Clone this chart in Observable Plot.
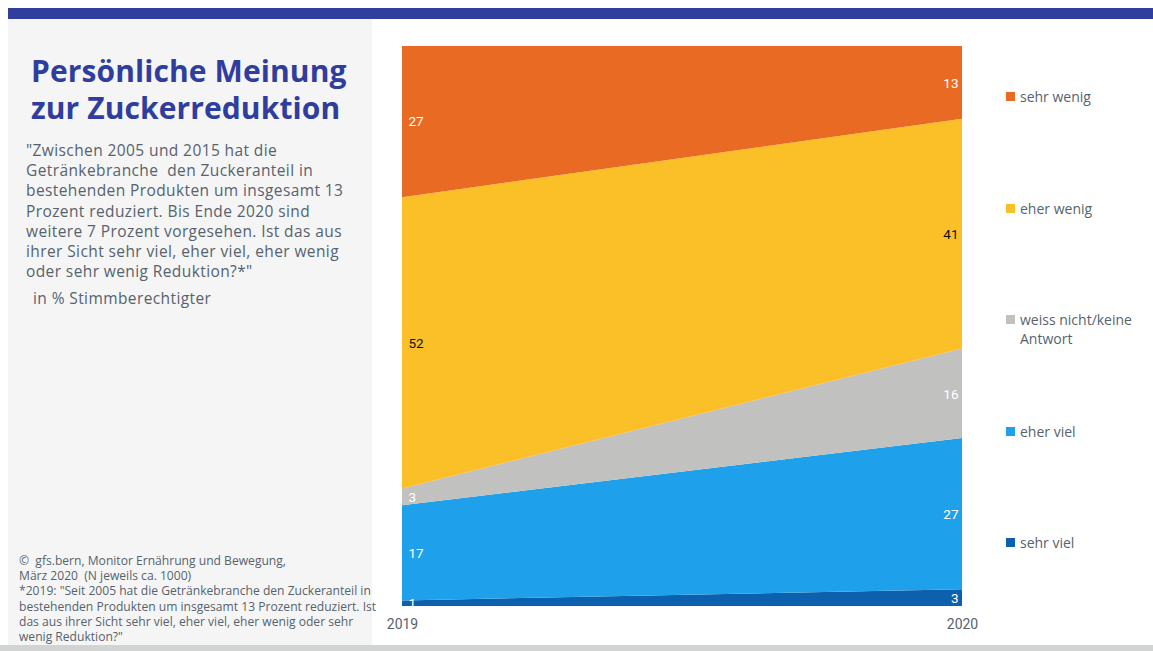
<!DOCTYPE html>
<html>
<head>
<meta charset="utf-8">
<script src="https://cdn.jsdelivr.net/npm/d3@7"></script>
<script src="https://cdn.jsdelivr.net/npm/@observablehq/plot@0.6"></script>
<style>
  html, body { margin: 0; padding: 0; background: #fff; }
  #root { position: relative; width: 1153px; height: 651px; overflow: hidden; font-family: "Open Sans", sans-serif; color: #56636e; }
  .abs { position: absolute; }
  #topbar { left: 8px; top: 8px; width: 1145px; height: 11px; background: #313e9b; }
  #panel { left: 8px; top: 19px; width: 364px; height: 626px; background: #f5f5f5; }
  #bottombar { left: 0; top: 645px; width: 1153px; height: 6px; background: #d2d3d3; }
  #title { left: 31px; top: 52px; font-size: 30px; line-height: 37px; font-weight: 700; color: #2f3e9e; letter-spacing: 0.1px; white-space: nowrap; }
  #question { left: 26px; top: 140px; font-size: 15.5px; line-height: 20.2px; white-space: nowrap; letter-spacing: 0.4px; }
  #unit { left: 33px; top: 288px; font-size: 15.5px; line-height: 20px; white-space: nowrap; letter-spacing: 0.4px; }
  #source { left: 19px; top: 553px; font-size: 12.1px; line-height: 15.2px; white-space: nowrap; }
  #chart { left: 380px; top: 19px; }
  .leg { position: absolute; left: 1006px; font-size: 14px; line-height: 19px; white-space: nowrap; }
  .leg .sw { position: absolute; left: 0; top: 5px; width: 9px; height: 9px; }
  .leg .lab { position: absolute; left: 14px; top: 0; }
</style>
</head>
<body>
<div id="root">
  <div id="topbar" class="abs"></div>
  <div id="panel" class="abs"></div>
  <div id="bottombar" class="abs"></div>
  <div id="title" class="abs">Persönliche Meinung<br>zur Zuckerreduktion</div>
  <div id="question" class="abs">"Zwischen 2005 und 2015 hat die<br>Getränkebranche&nbsp; den Zuckeranteil in<br>bestehenden Produkten um insgesamt 13<br>Prozent reduziert. Bis Ende 2020 sind<br>weitere 7 Prozent vorgesehen. Ist das aus<br>ihrer Sicht sehr viel, eher viel, eher wenig<br>oder sehr wenig Reduktion?*"</div>
  <div id="unit" class="abs">in % Stimmberechtigter</div>
  <div id="source" class="abs">©&nbsp; gfs.bern, Monitor Ernährung und Bewegung,<br>März 2020&nbsp; (N jeweils ca. 1000)<br>*2019: "Seit 2005 hat die Getränkebranche den Zuckeranteil in<br>bestehenden Produkten um insgesamt 13 Prozent reduziert. Ist<br>das aus ihrer Sicht sehr viel, eher viel, eher wenig oder sehr<br>wenig Reduktion?"</div>
  <div id="chart" class="abs"></div>
  <div id="legend"></div>
</div>
<script>
// Data
const years = [2019, 2020];
const categories = ["sehr viel", "eher viel", "weiss nicht/keine Antwort", "eher wenig", "sehr wenig"];
const legendLabels = ["sehr viel", "eher viel", "weiss nicht/keine<br>Antwort", "eher wenig", "sehr wenig"];
const values2019 = [1, 17, 3, 52, 27];
const values2020 = [3, 27, 16, 41, 13];
const colors = ["#0d60ae", "#1ea1ea", "#c1c1bf", "#fbbf28", "#e96a23"];
const labelColors = ["#ffffff", "#ffffff", "#ffffff", "#111111", "#ffffff"];

const rows = [];
categories.forEach((c, i) => {
  rows.push({year: years[0], cat: c, value: values2019[i], lc: labelColors[i]});
  rows.push({year: years[1], cat: c, value: values2020[i], lc: labelColors[i]});
});

const W = 773, H = 626;
const chart = Plot.plot({
  width: W,
  height: H,
  marginLeft: 22,
  marginRight: 191,
  marginTop: 27,
  marginBottom: 39,
  style: {fontFamily: "Roboto, sans-serif", fontSize: "14px", color: "#56636e", background: "transparent", overflow: "visible"},
  x: {type: "linear", domain: years, ticks: years, tickFormat: d => String(d), label: null, tickSize: 0, tickPadding: 13},
  y: {domain: [0, 100], axis: null},
  color: {domain: categories, range: colors},
  marks: [
    Plot.areaY(rows, {x: "year", y: "value", z: "cat", fill: "cat", order: categories, curve: "linear"}),
    Plot.text(rows, Plot.stackY({
      filter: d => d.year === years[0],
      x: "year", y: "value", z: "cat", order: categories,
      text: d => String(d.value), fill: "lc", textAnchor: "start", dx: 6, dy: 0,
      fontSize: 13.5
    })),
    Plot.text(rows, Plot.stackY({
      filter: d => d.year === years[1],
      x: "year", y: "value", z: "cat", order: categories,
      text: d => String(d.value), fill: "lc", textAnchor: "end", dx: -4, dy: 1,
      fontSize: 13.5
    })),
    Plot.axisX({ticks: years, tickFormat: d => String(d), tickSize: 0, tickPadding: 13, fontSize: 14, fill: "#56636e", label: null})
  ]
});
document.getElementById("chart").appendChild(chart);

// Legend (HTML), top series first
const legendTops = [533, 422, 310, 199, 87];
const legend = document.getElementById("legend");
categories.forEach((c, i) => {
  const item = document.createElement("div");
  item.className = "leg";
  item.style.top = legendTops[i] + "px";
  item.innerHTML = `<span class="sw" style="background:${colors[i]}"></span><span class="lab">${legendLabels[i]}</span>`;
  legend.appendChild(item);
});
</script>
</body>
</html>
